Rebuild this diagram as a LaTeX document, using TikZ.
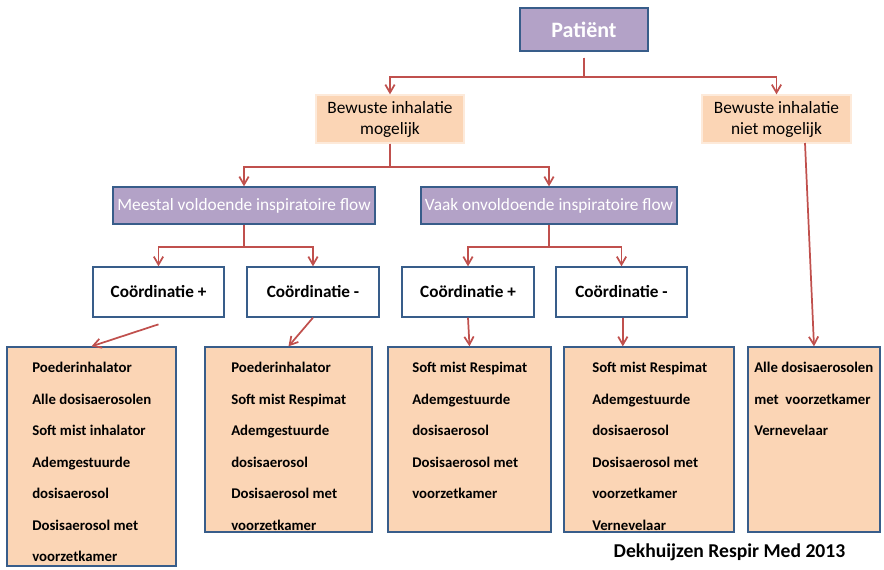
\documentclass[tikz,border=0pt]{standalone}
\usepackage{fontspec}
\setmainfont{Carlito}
\usetikzlibrary{arrows.meta}
\definecolor{paarsvul}{HTML}{B3A2C7}
\definecolor{perzikvul}{HTML}{FBD5B5}
\definecolor{randblauw}{HTML}{385D8A}
\definecolor{pijlrood}{HTML}{C0504D}

\begin{document}
\begin{tikzpicture}[x=0.75pt,y=-0.75pt,
    maat/.style 2 args={minimum width=#1*0.75pt, minimum height=#2*0.75pt}]
        \tikzstyle{paars}=[fill=paarsvul, draw=randblauw, line width=1pt, text=white, inner sep=0pt]
        \tikzstyle{perzik}=[fill=perzikvul, draw=perzikvul!50!white, line width=1pt, inner sep=0pt, align=center, font=\fontsize{13}{15.75}\selectfont]
        \tikzstyle{wit}=[fill=white, draw=randblauw, line width=1pt, inner sep=0pt, font=\bfseries\fontsize{12.9}{15}\selectfont]
        \tikzstyle{lijst}=[fill=perzikvul, draw=randblauw, line width=1pt, inner sep=0pt]
        \tikzstyle{regel}=[anchor=base west, inner sep=0pt, font=\bfseries\fontsize{11.1}{13}\selectfont]
        \tikzstyle{pijl}=[draw=pijlrood, line width=1.3pt, -{Straight Barb[length=6pt,width=7pt]}]

        \useasboundingbox (0,0) rectangle (884,569);

        \node[paars, maat={128}{43}, font=\bfseries\fontsize{16.5}{18}\selectfont] (pat) at (584,29.5) {Patiënt};

        \node[perzik, maat={148}{48}] (bim) at (390,119) {Bewuste inhalatie\\mogelijk};
        \node[perzik, maat={149}{48}] (bnm) at (776.5,119) {Bewuste inhalatie\\niet mogelijk};

        \node[paars, maat={262}{37}, font=\fontsize{13}{15}\selectfont] (vold) at (244,205.5) {Meestal voldoende inspiratoire flow};
        \node[paars, maat={256}{37}, font=\fontsize{13}{15}\selectfont] (onvold) at (549,205.5) {Vaak onvoldoende inspiratoire flow};

        \node[wit, maat={131}{50}] (c1) at (158.5,292) {Coördinatie +};
        \node[wit, maat={132}{50}] (c2) at (313,292) {Coördinatie -};
        \node[wit, maat={132}{50}] (c3) at (468,292) {Coördinatie +};
        \node[wit, maat={131}{50}] (c4) at (621.5,292) {Coördinatie -};

        \node[lijst, maat={169}{219}] (b1) at (91.5,456.5) {};
        \node[lijst, maat={167}{185}] (b2) at (288.5,439.5) {};
        \node[lijst, maat={163}{185}] (b3) at (469.5,439.5) {};
        \node[lijst, maat={170}{185}] (b4) at (649,439.5) {};
        \node[lijst, maat={132}{185}] (b5) at (814,439.5) {};

        \foreach \t [count=\i] in {Poederinhalator, Alle dosisaerosolen, Soft mist inhalator, Ademgestuurde, dosisaerosol, Dosisaerosol met, voorzetkamer}
          \node[regel] (r1-\i) at (32,{341+31.5*\i}) {\t};
        \foreach \t [count=\i] in {Poederinhalator, Soft mist Respimat, Ademgestuurde, dosisaerosol, Dosisaerosol met, voorzetkamer}
          \node[regel] (r2-\i) at (231,{341+31.5*\i}) {\t};
        \foreach \t [count=\i] in {Soft mist Respimat, Ademgestuurde, dosisaerosol, Dosisaerosol met, voorzetkamer}
          \node[regel] (r3-\i) at (412,{341+31.5*\i}) {\t};
        \foreach \t [count=\i] in {Soft mist Respimat, Ademgestuurde, dosisaerosol, Dosisaerosol met, voorzetkamer, Vernevelaar}
          \node[regel] (r4-\i) at (592,{341+31.5*\i}) {\t};
        \foreach \t [count=\i] in {Alle dosisaerosolen, met\ \ voorzetkamer, Vernevelaar}
          \node[regel] (r5-\i) at (754,{341+31.5*\i}) {\t};

        \node[anchor=base, inner sep=0pt, font=\bfseries\fontsize{14.7}{17}\selectfont] (bron) at (729.5,557) {Dekhuijzen Respir Med 2013};

        \draw[pijl] ([yshift=-4.5pt]pat.south) -- ++(0,19) -| (bim.north);
        \draw[pijl] ([yshift=-4.5pt]pat.south) -- ++(0,19) -| (bnm.north);

        \draw[pijl] (bim.south) -- ++(0,23) -| (vold.north);
        \draw[pijl] (bim.south) -- ++(0,23) -| (onvold.north);

        \draw[pijl] (vold.south) -- ++(0,22) -| (c1.north);
        \draw[pijl] (vold.south) -- ++(0,22) -| (c2.north);
        \draw[pijl] (onvold.south) -- ++(0,22) -| (c3.north);
        \draw[pijl] (onvold.south) -- ++(0,22) -| (c4.north);

        \draw[pijl] ([yshift=-5pt]c1.south) -- (b1.north);
        \draw[pijl] (c2.south) -- (b2.north);
        \draw[pijl] (c3.south) -- (b3.north);
        \draw[pijl] ([xshift=1pt]c4.south) -- ([xshift=1pt]c4.south |- b4.north);

        \coordinate (uit) at (805,143);
        \draw[pijl] (uit) -- (b5.north);
      \end{tikzpicture}
\end{document}
